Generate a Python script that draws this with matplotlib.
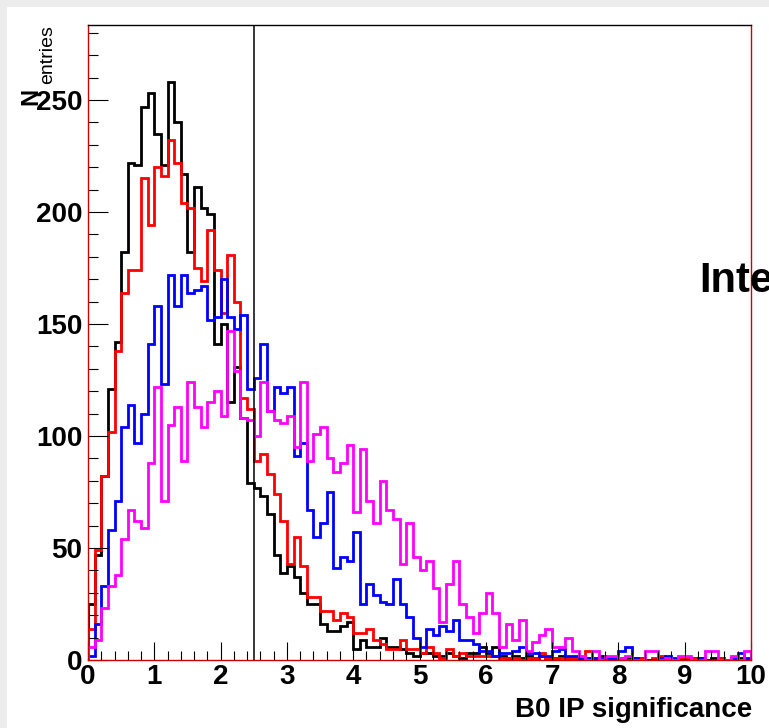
import numpy as np
import matplotlib.pyplot as plt
from matplotlib.ticker import MultipleLocator
from matplotlib.patches import Rectangle


# Data -----------------------------------------------------------------

Bin_Edges = np.linspace(0, 10, 101)

Black_Counts = [25, 47, 82, 121, 142, 182, 222, 221, 247, 253,
                235, 221, 258, 240, 217, 182, 211, 202, 199, 141,
                150, 115, 131, 108, 79, 77, 73, 65, 47, 39,
                42, 37, 30, 25, 25, 16, 13, 13, 15, 17,
                5, 9, 6, 6, 10, 6, 6, 5, 3, 2,
                3, 3, 2, 2, 3, 2, 1, 3, 3, 6,
                3, 6, 2, 1, 2, 1, 2, 1, 2, 1,
                1, 2, 1, 1, 0, 1, 1, 2, 1, 1,
                0, 1, 1, 1, 0, 0, 1, 1, 0, 0,
                1, 1, 0, 0, 1, 1, 0, 0, 1, 0]

Red_Counts = [14, 49, 82, 102, 138, 164, 174, 174, 215, 194,
              220, 216, 232, 222, 204, 202, 175, 169, 192, 174,
              155, 181, 160, 117, 112, 89, 92, 83, 74, 62,
              43, 55, 42, 28, 28, 22, 22, 18, 21, 19,
              12, 12, 14, 9, 7, 5, 5, 9, 5, 5,
              3, 6, 3, 1, 5, 2, 3, 2, 2, 2,
              2, 2, 1, 1, 1, 0, 1, 1, 3, 1,
              1, 1, 1, 1, 0, 4, 1, 1, 1, 0,
              1, 0, 0, 1, 0, 1, 2, 1, 0, 1,
              1, 1, 1, 0, 0, 1, 0, 1, 0, 0]

Blue_Counts = [2, 16, 33, 58, 71, 104, 114, 97, 110, 141,
               158, 123, 172, 158, 172, 164, 165, 167, 152, 153,
               170, 153, 148, 154, 121, 126, 141, 111, 122, 119,
               122, 91, 97, 67, 55, 61, 75, 41, 46, 44,
               57, 25, 34, 29, 26, 25, 36, 25, 19, 10,
               6, 14, 11, 15, 13, 18, 9, 9, 7, 4,
               4, 2, 3, 3, 4, 6, 3, 3, 2, 2,
               4, 5, 2, 2, 1, 1, 1, 1, 1, 1,
               4, 6, 1, 0, 0, 0, 1, 2, 1, 0,
               0, 0, 1, 0, 0, 0, 0, 1, 3, 1]

Magenta_Counts = [6, 9, 23, 33, 38, 54, 67, 62, 59, 88,
                  122, 71, 105, 113, 89, 124, 113, 104, 115, 120,
                  109, 147, 129, 108, 107, 100, 124, 111, 107, 106,
                  109, 95, 124, 89, 101, 104, 90, 84, 88, 96,
                  66, 94, 71, 61, 80, 67, 63, 43, 61, 46,
                  40, 44, 32, 17, 34, 44, 25, 19, 12, 21,
                  30, 21, 6, 16, 9, 18, 4, 8, 11, 14,
                  6, 6, 10, 4, 2, 0, 4, 0, 2, 2,
                  1, 2, 0, 0, 4, 4, 0, 1, 0, 2,
                  2, 0, 0, 4, 4, 0, 0, 2, 0, 4]

Cut_Value = 2.5


# Plot -----------------------------------------------------------------

plt.rcParams["font.family"] = ["Liberation Sans", "DejaVu Sans"]
plt.rcParams["font.weight"] = "bold"

W, H = 769, 728
fig = plt.figure(figsize= (W / 100, H / 100), dpi= 100, facecolor= "#ececec")

# white pad behind everything
fig.patches.append(Rectangle((7 / W, 0), 1, 1 - 7 / H, transform= fig.transFigure,
                             facecolor= "white", edgecolor= "none", zorder= -10))

ax = fig.add_axes([88 / W, 68 / H, 663 / W, 635 / H])
ax.set_zorder(2)
ax.patch.set_alpha(0)

ax.stairs(Black_Counts, Bin_Edges, color= "black", linewidth= 2.0)
ax.stairs(Red_Counts, Bin_Edges, color= "#ff0000", linewidth= 2.0)
ax.stairs(Blue_Counts, Bin_Edges, color= "#0000ff", linewidth= 2.0)
ax.stairs(Magenta_Counts, Bin_Edges, color= "#ff00ff", linewidth= 2.0)

ax.axvline(Cut_Value, color= "black", linewidth= 1.1)

ax.set_xlim(0, 10)
ax.set_ylim(0, 283.5)

ax.xaxis.set_major_locator(MultipleLocator(1))
ax.xaxis.set_minor_locator(MultipleLocator(0.2))
ax.yaxis.set_major_locator(MultipleLocator(50))
ax.yaxis.set_minor_locator(MultipleLocator(10))

ax.tick_params(axis= "x", which= "major", direction= "in", length= 13, width= 0.8,
               labelsize= 20, pad= 3)
ax.tick_params(axis= "x", which= "minor", direction= "in", length= 6.5, width= 0.8)
ax.tick_params(axis= "y", which= "major", direction= "in", length= 14.5, width= 0.8,
               labelsize= 20, pad= 4)
ax.tick_params(axis= "y", which= "minor", direction= "in", length= 7.2, width= 0.8)

for side in ["left", "bottom", "right"]:
    ax.spines[side].set_color("#cc0000")
    ax.spines[side].set_linewidth(1.0)
ax.spines["top"].set_color("black")
ax.spines["top"].set_linewidth(1.0)

fig.text(752 / W, 1 - 717 / H, "B0 IP significance", ha= "right", va= "baseline",
         fontsize= 20, fontweight= "bold")

# y title N_entries
fig.text(42 / W, 1 - 96.5 / H, "N", rotation= 90, ha= "right", va= "center",
         fontsize= 17, fontweight= "bold")
fig.text(56 / W, 1 - 25 / H, "entries", rotation= 90, ha= "right", va= "top",
         fontsize= 14, fontweight= "normal")

# title text, cut by the canvas edge as in the original
fig.text(699 / W, 1 - 292 / H, "Inte", ha= "left", va= "baseline",
         fontsize= 30, fontweight= "bold")

plt.savefig("out.png", dpi= 100, facecolor= fig.get_facecolor())
